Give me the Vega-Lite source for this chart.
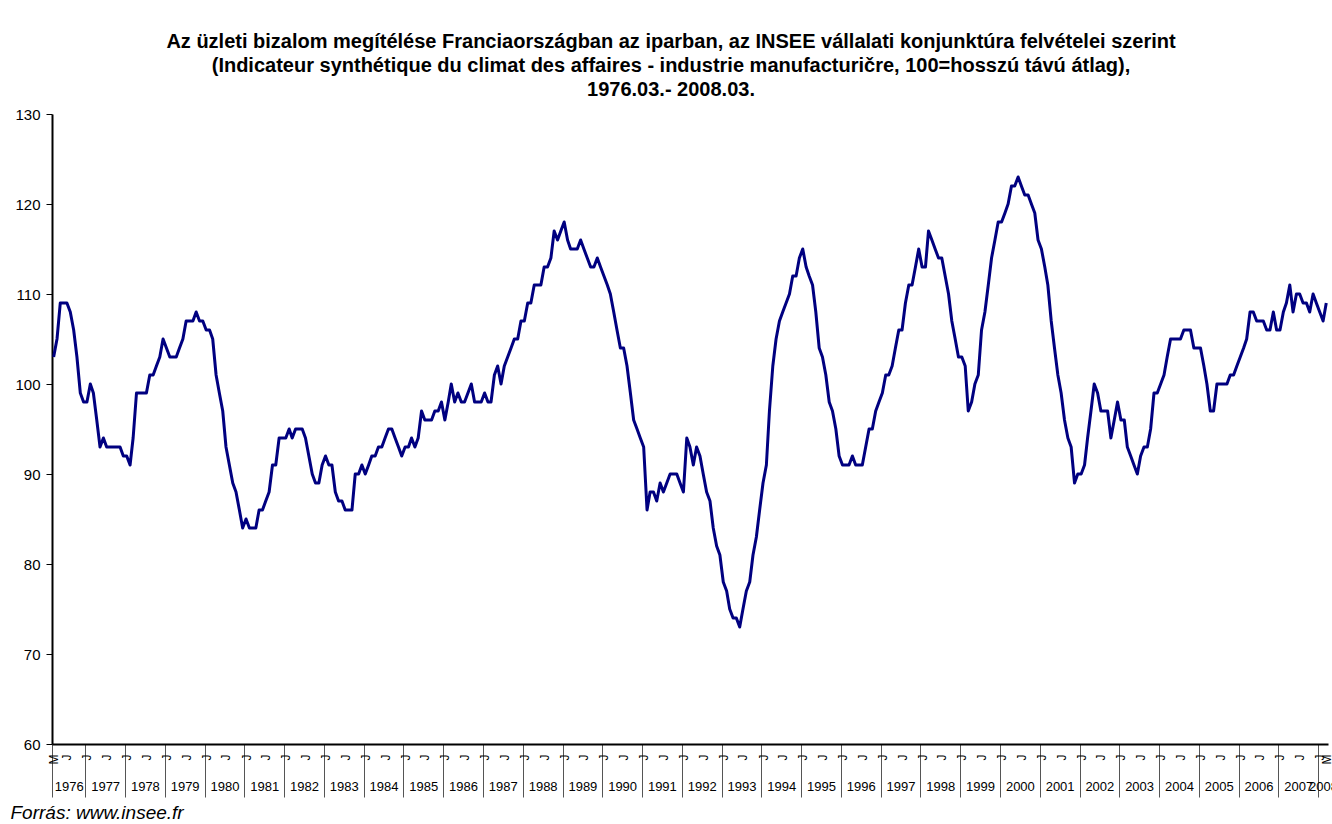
{
  "$schema": "https://vega.github.io/schema/vega-lite/v6.json",
  "width": 1276,
  "height": 630,
  "autosize": "none",
  "padding": {"left": 52, "top": 114, "right": 4, "bottom": 80},
  "background": "white",
  "config": {"font": "Liberation Sans", "view": {"stroke": null}},
  "title": {
    "text": [
      "Az üzleti bizalom megítélése Franciaországban az iparban, az INSEE vállalati konjunktúra felvételei szerint",
      "(Indicateur synthétique du climat des affaires - industrie manufacturičre, 100=hosszú távú átlag),",
      "1976.03.- 2008.03."
    ],
    "font": "Liberation Sans",
    "fontSize": 20,
    "fontWeight": "bold",
    "lineHeight": 24,
    "color": "black",
    "anchor": "middle",
    "frame": "group",
    "dx": -19,
    "offset": 7
  },
  "datasets": {
    "idx": [
      {"d":"1976-03-16","v":103},{"d":"1976-04-16","v":105},{"d":"1976-05-16","v":109},{"d":"1976-06-16","v":109},{"d":"1976-07-16","v":109},{"d":"1976-08-16","v":108},{"d":"1976-09-16","v":106},{"d":"1976-10-16","v":103},{"d":"1976-11-16","v":99},{"d":"1976-12-16","v":98},
      {"d":"1977-01-16","v":98},{"d":"1977-02-16","v":100},{"d":"1977-03-16","v":99},{"d":"1977-04-16","v":96},{"d":"1977-05-16","v":93},{"d":"1977-06-16","v":94},{"d":"1977-07-16","v":93},{"d":"1977-08-16","v":93},{"d":"1977-09-16","v":93},{"d":"1977-10-16","v":93},{"d":"1977-11-16","v":93},{"d":"1977-12-16","v":92},
      {"d":"1978-01-16","v":92},{"d":"1978-02-16","v":91},{"d":"1978-03-16","v":94},{"d":"1978-04-16","v":99},{"d":"1978-05-16","v":99},{"d":"1978-06-16","v":99},{"d":"1978-07-16","v":99},{"d":"1978-08-16","v":101},{"d":"1978-09-16","v":101},{"d":"1978-10-16","v":102},{"d":"1978-11-16","v":103},{"d":"1978-12-16","v":105},
      {"d":"1979-01-16","v":104},{"d":"1979-02-16","v":103},{"d":"1979-03-16","v":103},{"d":"1979-04-16","v":103},{"d":"1979-05-16","v":104},{"d":"1979-06-16","v":105},{"d":"1979-07-16","v":107},{"d":"1979-08-16","v":107},{"d":"1979-09-16","v":107},{"d":"1979-10-16","v":108},{"d":"1979-11-16","v":107},{"d":"1979-12-16","v":107},
      {"d":"1980-01-16","v":106},{"d":"1980-02-16","v":106},{"d":"1980-03-16","v":105},{"d":"1980-04-16","v":101},{"d":"1980-05-16","v":99},{"d":"1980-06-16","v":97},{"d":"1980-07-16","v":93},{"d":"1980-08-16","v":91},{"d":"1980-09-16","v":89},{"d":"1980-10-16","v":88},{"d":"1980-11-16","v":86},{"d":"1980-12-16","v":84},
      {"d":"1981-01-16","v":85},{"d":"1981-02-16","v":84},{"d":"1981-03-16","v":84},{"d":"1981-04-16","v":84},{"d":"1981-05-16","v":86},{"d":"1981-06-16","v":86},{"d":"1981-07-16","v":87},{"d":"1981-08-16","v":88},{"d":"1981-09-16","v":91},{"d":"1981-10-16","v":91},{"d":"1981-11-16","v":94},{"d":"1981-12-16","v":94},
      {"d":"1982-01-16","v":94},{"d":"1982-02-16","v":95},{"d":"1982-03-16","v":94},{"d":"1982-04-16","v":95},{"d":"1982-05-16","v":95},{"d":"1982-06-16","v":95},{"d":"1982-07-16","v":94},{"d":"1982-08-16","v":92},{"d":"1982-09-16","v":90},{"d":"1982-10-16","v":89},{"d":"1982-11-16","v":89},{"d":"1982-12-16","v":91},
      {"d":"1983-01-16","v":92},{"d":"1983-02-16","v":91},{"d":"1983-03-16","v":91},{"d":"1983-04-16","v":88},{"d":"1983-05-16","v":87},{"d":"1983-06-16","v":87},{"d":"1983-07-16","v":86},{"d":"1983-08-16","v":86},{"d":"1983-09-16","v":86},{"d":"1983-10-16","v":90},{"d":"1983-11-16","v":90},{"d":"1983-12-16","v":91},
      {"d":"1984-01-16","v":90},{"d":"1984-02-16","v":91},{"d":"1984-03-16","v":92},{"d":"1984-04-16","v":92},{"d":"1984-05-16","v":93},{"d":"1984-06-16","v":93},{"d":"1984-07-16","v":94},{"d":"1984-08-16","v":95},{"d":"1984-09-16","v":95},{"d":"1984-10-16","v":94},{"d":"1984-11-16","v":93},{"d":"1984-12-16","v":92},
      {"d":"1985-01-16","v":93},{"d":"1985-02-16","v":93},{"d":"1985-03-16","v":94},{"d":"1985-04-16","v":93},{"d":"1985-05-16","v":94},{"d":"1985-06-16","v":97},{"d":"1985-07-16","v":96},{"d":"1985-08-16","v":96},{"d":"1985-09-16","v":96},{"d":"1985-10-16","v":97},{"d":"1985-11-16","v":97},{"d":"1985-12-16","v":98},
      {"d":"1986-01-16","v":96},{"d":"1986-02-16","v":98},{"d":"1986-03-16","v":100},{"d":"1986-04-16","v":98},{"d":"1986-05-16","v":99},{"d":"1986-06-16","v":98},{"d":"1986-07-16","v":98},{"d":"1986-08-16","v":99},{"d":"1986-09-16","v":100},{"d":"1986-10-16","v":98},{"d":"1986-11-16","v":98},{"d":"1986-12-16","v":98},
      {"d":"1987-01-16","v":99},{"d":"1987-02-16","v":98},{"d":"1987-03-16","v":98},{"d":"1987-04-16","v":101},{"d":"1987-05-16","v":102},{"d":"1987-06-16","v":100},{"d":"1987-07-16","v":102},{"d":"1987-08-16","v":103},{"d":"1987-09-16","v":104},{"d":"1987-10-16","v":105},{"d":"1987-11-16","v":105},{"d":"1987-12-16","v":107},
      {"d":"1988-01-16","v":107},{"d":"1988-02-16","v":109},{"d":"1988-03-16","v":109},{"d":"1988-04-16","v":111},{"d":"1988-05-16","v":111},{"d":"1988-06-16","v":111},{"d":"1988-07-16","v":113},{"d":"1988-08-16","v":113},{"d":"1988-09-16","v":114},{"d":"1988-10-16","v":117},{"d":"1988-11-16","v":116},{"d":"1988-12-16","v":117},
      {"d":"1989-01-16","v":118},{"d":"1989-02-16","v":116},{"d":"1989-03-16","v":115},{"d":"1989-04-16","v":115},{"d":"1989-05-16","v":115},{"d":"1989-06-16","v":116},{"d":"1989-07-16","v":115},{"d":"1989-08-16","v":114},{"d":"1989-09-16","v":113},{"d":"1989-10-16","v":113},{"d":"1989-11-16","v":114},{"d":"1989-12-16","v":113},
      {"d":"1990-01-16","v":112},{"d":"1990-02-16","v":111},{"d":"1990-03-16","v":110},{"d":"1990-04-16","v":108},{"d":"1990-05-16","v":106},{"d":"1990-06-16","v":104},{"d":"1990-07-16","v":104},{"d":"1990-08-16","v":102},{"d":"1990-09-16","v":99},{"d":"1990-10-16","v":96},{"d":"1990-11-16","v":95},{"d":"1990-12-16","v":94},
      {"d":"1991-01-16","v":93},{"d":"1991-02-16","v":86},{"d":"1991-03-16","v":88},{"d":"1991-04-16","v":88},{"d":"1991-05-16","v":87},{"d":"1991-06-16","v":89},{"d":"1991-07-16","v":88},{"d":"1991-08-16","v":89},{"d":"1991-09-16","v":90},{"d":"1991-10-16","v":90},{"d":"1991-11-16","v":90},{"d":"1991-12-16","v":89},
      {"d":"1992-01-16","v":88},{"d":"1992-02-16","v":94},{"d":"1992-03-16","v":93},{"d":"1992-04-16","v":91},{"d":"1992-05-16","v":93},{"d":"1992-06-16","v":92},{"d":"1992-07-16","v":90},{"d":"1992-08-16","v":88},{"d":"1992-09-16","v":87},{"d":"1992-10-16","v":84},{"d":"1992-11-16","v":82},{"d":"1992-12-16","v":81},
      {"d":"1993-01-16","v":78},{"d":"1993-02-16","v":77},{"d":"1993-03-16","v":75},{"d":"1993-04-16","v":74},{"d":"1993-05-16","v":74},{"d":"1993-06-16","v":73},{"d":"1993-07-16","v":75},{"d":"1993-08-16","v":77},{"d":"1993-09-16","v":78},{"d":"1993-10-16","v":81},{"d":"1993-11-16","v":83},{"d":"1993-12-16","v":86},
      {"d":"1994-01-16","v":89},{"d":"1994-02-16","v":91},{"d":"1994-03-16","v":97},{"d":"1994-04-16","v":102},{"d":"1994-05-16","v":105},{"d":"1994-06-16","v":107},{"d":"1994-07-16","v":108},{"d":"1994-08-16","v":109},{"d":"1994-09-16","v":110},{"d":"1994-10-16","v":112},{"d":"1994-11-16","v":112},{"d":"1994-12-16","v":114},
      {"d":"1995-01-16","v":115},{"d":"1995-02-16","v":113},{"d":"1995-03-16","v":112},{"d":"1995-04-16","v":111},{"d":"1995-05-16","v":108},{"d":"1995-06-16","v":104},{"d":"1995-07-16","v":103},{"d":"1995-08-16","v":101},{"d":"1995-09-16","v":98},{"d":"1995-10-16","v":97},{"d":"1995-11-16","v":95},{"d":"1995-12-16","v":92},
      {"d":"1996-01-16","v":91},{"d":"1996-02-16","v":91},{"d":"1996-03-16","v":91},{"d":"1996-04-16","v":92},{"d":"1996-05-16","v":91},{"d":"1996-06-16","v":91},{"d":"1996-07-16","v":91},{"d":"1996-08-16","v":93},{"d":"1996-09-16","v":95},{"d":"1996-10-16","v":95},{"d":"1996-11-16","v":97},{"d":"1996-12-16","v":98},
      {"d":"1997-01-16","v":99},{"d":"1997-02-16","v":101},{"d":"1997-03-16","v":101},{"d":"1997-04-16","v":102},{"d":"1997-05-16","v":104},{"d":"1997-06-16","v":106},{"d":"1997-07-16","v":106},{"d":"1997-08-16","v":109},{"d":"1997-09-16","v":111},{"d":"1997-10-16","v":111},{"d":"1997-11-16","v":113},{"d":"1997-12-16","v":115},
      {"d":"1998-01-16","v":113},{"d":"1998-02-16","v":113},{"d":"1998-03-16","v":117},{"d":"1998-04-16","v":116},{"d":"1998-05-16","v":115},{"d":"1998-06-16","v":114},{"d":"1998-07-16","v":114},{"d":"1998-08-16","v":112},{"d":"1998-09-16","v":110},{"d":"1998-10-16","v":107},{"d":"1998-11-16","v":105},{"d":"1998-12-16","v":103},
      {"d":"1999-01-16","v":103},{"d":"1999-02-16","v":102},{"d":"1999-03-16","v":97},{"d":"1999-04-16","v":98},{"d":"1999-05-16","v":100},{"d":"1999-06-16","v":101},{"d":"1999-07-16","v":106},{"d":"1999-08-16","v":108},{"d":"1999-09-16","v":111},{"d":"1999-10-16","v":114},{"d":"1999-11-16","v":116},{"d":"1999-12-16","v":118},
      {"d":"2000-01-16","v":118},{"d":"2000-02-16","v":119},{"d":"2000-03-16","v":120},{"d":"2000-04-16","v":122},{"d":"2000-05-16","v":122},{"d":"2000-06-16","v":123},{"d":"2000-07-16","v":122},{"d":"2000-08-16","v":121},{"d":"2000-09-16","v":121},{"d":"2000-10-16","v":120},{"d":"2000-11-16","v":119},{"d":"2000-12-16","v":116},
      {"d":"2001-01-16","v":115},{"d":"2001-02-16","v":113},{"d":"2001-03-16","v":111},{"d":"2001-04-16","v":107},{"d":"2001-05-16","v":104},{"d":"2001-06-16","v":101},{"d":"2001-07-16","v":99},{"d":"2001-08-16","v":96},{"d":"2001-09-16","v":94},{"d":"2001-10-16","v":93},{"d":"2001-11-16","v":89},{"d":"2001-12-16","v":90},
      {"d":"2002-01-16","v":90},{"d":"2002-02-16","v":91},{"d":"2002-03-16","v":94},{"d":"2002-04-16","v":97},{"d":"2002-05-16","v":100},{"d":"2002-06-16","v":99},{"d":"2002-07-16","v":97},{"d":"2002-08-16","v":97},{"d":"2002-09-16","v":97},{"d":"2002-10-16","v":94},{"d":"2002-11-16","v":96},{"d":"2002-12-16","v":98},
      {"d":"2003-01-16","v":96},{"d":"2003-02-16","v":96},{"d":"2003-03-16","v":93},{"d":"2003-04-16","v":92},{"d":"2003-05-16","v":91},{"d":"2003-06-16","v":90},{"d":"2003-07-16","v":92},{"d":"2003-08-16","v":93},{"d":"2003-09-16","v":93},{"d":"2003-10-16","v":95},{"d":"2003-11-16","v":99},{"d":"2003-12-16","v":99},
      {"d":"2004-01-16","v":100},{"d":"2004-02-16","v":101},{"d":"2004-03-16","v":103},{"d":"2004-04-16","v":105},{"d":"2004-05-16","v":105},{"d":"2004-06-16","v":105},{"d":"2004-07-16","v":105},{"d":"2004-08-16","v":106},{"d":"2004-09-16","v":106},{"d":"2004-10-16","v":106},{"d":"2004-11-16","v":104},{"d":"2004-12-16","v":104},
      {"d":"2005-01-16","v":104},{"d":"2005-02-16","v":102},{"d":"2005-03-16","v":100},{"d":"2005-04-16","v":97},{"d":"2005-05-16","v":97},{"d":"2005-06-16","v":100},{"d":"2005-07-16","v":100},{"d":"2005-08-16","v":100},{"d":"2005-09-16","v":100},{"d":"2005-10-16","v":101},{"d":"2005-11-16","v":101},{"d":"2005-12-16","v":102},
      {"d":"2006-01-16","v":103},{"d":"2006-02-16","v":104},{"d":"2006-03-16","v":105},{"d":"2006-04-16","v":108},{"d":"2006-05-16","v":108},{"d":"2006-06-16","v":107},{"d":"2006-07-16","v":107},{"d":"2006-08-16","v":107},{"d":"2006-09-16","v":106},{"d":"2006-10-16","v":106},{"d":"2006-11-16","v":108},{"d":"2006-12-16","v":106},
      {"d":"2007-01-16","v":106},{"d":"2007-02-16","v":108},{"d":"2007-03-16","v":109},{"d":"2007-04-16","v":111},{"d":"2007-05-16","v":108},{"d":"2007-06-16","v":110},{"d":"2007-07-16","v":110},{"d":"2007-08-16","v":109},{"d":"2007-09-16","v":109},{"d":"2007-10-16","v":108},{"d":"2007-11-16","v":110},{"d":"2007-12-16","v":109},
      {"d":"2008-01-16","v":108},{"d":"2008-02-16","v":107},{"d":"2008-03-16","v":109}
    ]
  },
  "data": {"name": "idx"},
  "layer": [
    {
      "mark": {"type": "line", "color": "#000080", "strokeWidth": 3, "strokeJoin": "round"},
      "encoding": {
        "x": {
          "field": "d", "type": "temporal",
          "scale": {"type": "utc", "domain": [{"year":1976,"month":3,"date":1,"utc":true},{"year":2008,"month":4,"date":1,"utc":true}]},
          "axis": {
            "orient": "bottom", "title": null, "labels": false, "grid": false,
            "domain": true, "domainColor": "black", "domainWidth": 2,
            "ticks": true, "tickSize": 53, "tickColor": "#555555", "tickWidth": 1,
            "values": [
              {"year":1976,"month":3,"date":1,"utc":true},
              {"year":1977,"month":1,"date":1,"utc":true},{"year":1978,"month":1,"date":1,"utc":true},{"year":1979,"month":1,"date":1,"utc":true},{"year":1980,"month":1,"date":1,"utc":true},
              {"year":1981,"month":1,"date":1,"utc":true},{"year":1982,"month":1,"date":1,"utc":true},{"year":1983,"month":1,"date":1,"utc":true},{"year":1984,"month":1,"date":1,"utc":true},
              {"year":1985,"month":1,"date":1,"utc":true},{"year":1986,"month":1,"date":1,"utc":true},{"year":1987,"month":1,"date":1,"utc":true},{"year":1988,"month":1,"date":1,"utc":true},
              {"year":1989,"month":1,"date":1,"utc":true},{"year":1990,"month":1,"date":1,"utc":true},{"year":1991,"month":1,"date":1,"utc":true},{"year":1992,"month":1,"date":1,"utc":true},
              {"year":1993,"month":1,"date":1,"utc":true},{"year":1994,"month":1,"date":1,"utc":true},{"year":1995,"month":1,"date":1,"utc":true},{"year":1996,"month":1,"date":1,"utc":true},
              {"year":1997,"month":1,"date":1,"utc":true},{"year":1998,"month":1,"date":1,"utc":true},{"year":1999,"month":1,"date":1,"utc":true},{"year":2000,"month":1,"date":1,"utc":true},
              {"year":2001,"month":1,"date":1,"utc":true},{"year":2002,"month":1,"date":1,"utc":true},{"year":2003,"month":1,"date":1,"utc":true},{"year":2004,"month":1,"date":1,"utc":true},
              {"year":2005,"month":1,"date":1,"utc":true},{"year":2006,"month":1,"date":1,"utc":true},{"year":2007,"month":1,"date":1,"utc":true},{"year":2008,"month":1,"date":1,"utc":true}
            ]
          }
        },
        "y": {
          "field": "v", "type": "quantitative",
          "scale": {"domain": [60, 130], "nice": false, "zero": false},
          "axis": {"title": null, "grid": false, "values": [60,70,80,90,100,110,120,130], "domainColor": "black", "domainWidth": 2, "tickColor": "black", "tickSize": 6, "labelFontSize": 15, "labelColor": "black", "labelPadding": 6}
        }
      }
    },
    {
      "mark": {"type": "line", "strokeOpacity": 0},
      "encoding": {
        "x": {
          "field": "d", "type": "temporal",
          "scale": {"type": "utc", "domain": [{"year":1976,"month":3,"date":1,"utc":true},{"year":2008,"month":4,"date":1,"utc":true}]},
          "axis": {
            "orient": "bottom", "title": null, "grid": false, "domain": false, "ticks": false, "tickSize": 0,
            "labelAngle": 270, "labelFontSize": 12, "labelColor": "black", "labelPadding": 10,
            "labelOverlap": false, "labelBound": false, "labelFlush": false,
            "labelExpr": "utcmonth(datum.value) == 2 ? 'M' : 'J'",
            "values": [
              {"year":1976,"month":3,"date":16,"utc":true},{"year":1976,"month":7,"date":16,"utc":true},
              {"year":1977,"month":1,"date":16,"utc":true},{"year":1977,"month":7,"date":16,"utc":true},
              {"year":1978,"month":1,"date":16,"utc":true},{"year":1978,"month":7,"date":16,"utc":true},
              {"year":1979,"month":1,"date":16,"utc":true},{"year":1979,"month":7,"date":16,"utc":true},
              {"year":1980,"month":1,"date":16,"utc":true},{"year":1980,"month":7,"date":16,"utc":true},
              {"year":1981,"month":1,"date":16,"utc":true},{"year":1981,"month":7,"date":16,"utc":true},
              {"year":1982,"month":1,"date":16,"utc":true},{"year":1982,"month":7,"date":16,"utc":true},
              {"year":1983,"month":1,"date":16,"utc":true},{"year":1983,"month":7,"date":16,"utc":true},
              {"year":1984,"month":1,"date":16,"utc":true},{"year":1984,"month":7,"date":16,"utc":true},
              {"year":1985,"month":1,"date":16,"utc":true},{"year":1985,"month":7,"date":16,"utc":true},
              {"year":1986,"month":1,"date":16,"utc":true},{"year":1986,"month":7,"date":16,"utc":true},
              {"year":1987,"month":1,"date":16,"utc":true},{"year":1987,"month":7,"date":16,"utc":true},
              {"year":1988,"month":1,"date":16,"utc":true},{"year":1988,"month":7,"date":16,"utc":true},
              {"year":1989,"month":1,"date":16,"utc":true},{"year":1989,"month":7,"date":16,"utc":true},
              {"year":1990,"month":1,"date":16,"utc":true},{"year":1990,"month":7,"date":16,"utc":true},
              {"year":1991,"month":1,"date":16,"utc":true},{"year":1991,"month":7,"date":16,"utc":true},
              {"year":1992,"month":1,"date":16,"utc":true},{"year":1992,"month":7,"date":16,"utc":true},
              {"year":1993,"month":1,"date":16,"utc":true},{"year":1993,"month":7,"date":16,"utc":true},
              {"year":1994,"month":1,"date":16,"utc":true},{"year":1994,"month":7,"date":16,"utc":true},
              {"year":1995,"month":1,"date":16,"utc":true},{"year":1995,"month":7,"date":16,"utc":true},
              {"year":1996,"month":1,"date":16,"utc":true},{"year":1996,"month":7,"date":16,"utc":true},
              {"year":1997,"month":1,"date":16,"utc":true},{"year":1997,"month":7,"date":16,"utc":true},
              {"year":1998,"month":1,"date":16,"utc":true},{"year":1998,"month":7,"date":16,"utc":true},
              {"year":1999,"month":1,"date":16,"utc":true},{"year":1999,"month":7,"date":16,"utc":true},
              {"year":2000,"month":1,"date":16,"utc":true},{"year":2000,"month":7,"date":16,"utc":true},
              {"year":2001,"month":1,"date":16,"utc":true},{"year":2001,"month":7,"date":16,"utc":true},
              {"year":2002,"month":1,"date":16,"utc":true},{"year":2002,"month":7,"date":16,"utc":true},
              {"year":2003,"month":1,"date":16,"utc":true},{"year":2003,"month":7,"date":16,"utc":true},
              {"year":2004,"month":1,"date":16,"utc":true},{"year":2004,"month":7,"date":16,"utc":true},
              {"year":2005,"month":1,"date":16,"utc":true},{"year":2005,"month":7,"date":16,"utc":true},
              {"year":2006,"month":1,"date":16,"utc":true},{"year":2006,"month":7,"date":16,"utc":true},
              {"year":2007,"month":1,"date":16,"utc":true},{"year":2007,"month":7,"date":16,"utc":true},
              {"year":2008,"month":1,"date":16,"utc":true},{"year":2008,"month":3,"date":16,"utc":true}
            ]
          }
        },
        "y": {
          "field": "v", "type": "quantitative",
          "scale": {"domain": [60, 130], "nice": false, "zero": false},
          "axis": {"title": null, "grid": false, "values": [60,70,80,90,100,110,120,130], "domainColor": "black", "domainWidth": 2, "tickColor": "black", "tickSize": 6, "labelFontSize": 15, "labelColor": "black", "labelPadding": 6}
        }
      }
    },
    {
      "mark": {"type": "line", "strokeOpacity": 0},
      "encoding": {
        "x": {
          "field": "d", "type": "temporal",
          "scale": {"type": "utc", "domain": [{"year":1976,"month":3,"date":1,"utc":true},{"year":2008,"month":4,"date":1,"utc":true}]},
          "axis": {
            "orient": "bottom", "grid": false, "domain": false, "ticks": false, "tickSize": 0,
            "labelAngle": 0, "labelFontSize": 13, "labelColor": "black", "labelPadding": 36,
            "labelOverlap": false, "labelBound": false, "labelFlush": false,
            "labelExpr": "utcFormat(datum.value, '%Y')",
            "title": "Forrás: www.insee.fr",
            "titleFontStyle": "italic", "titleFontWeight": "normal", "titleFontSize": 19, "titleColor": "black",
            "titleAlign": "left", "titleBaseline": "alphabetic", "titleAnchor": "start", "titleX": -42, "titleY": 74,
            "values": [
              {"year":1976,"month":8,"date":1,"utc":true},
              {"year":1977,"month":7,"date":2,"utc":true},{"year":1978,"month":7,"date":2,"utc":true},{"year":1979,"month":7,"date":2,"utc":true},{"year":1980,"month":7,"date":2,"utc":true},
              {"year":1981,"month":7,"date":2,"utc":true},{"year":1982,"month":7,"date":2,"utc":true},{"year":1983,"month":7,"date":2,"utc":true},{"year":1984,"month":7,"date":2,"utc":true},
              {"year":1985,"month":7,"date":2,"utc":true},{"year":1986,"month":7,"date":2,"utc":true},{"year":1987,"month":7,"date":2,"utc":true},{"year":1988,"month":7,"date":2,"utc":true},
              {"year":1989,"month":7,"date":2,"utc":true},{"year":1990,"month":7,"date":2,"utc":true},{"year":1991,"month":7,"date":2,"utc":true},{"year":1992,"month":7,"date":2,"utc":true},
              {"year":1993,"month":7,"date":2,"utc":true},{"year":1994,"month":7,"date":2,"utc":true},{"year":1995,"month":7,"date":2,"utc":true},{"year":1996,"month":7,"date":2,"utc":true},
              {"year":1997,"month":7,"date":2,"utc":true},{"year":1998,"month":7,"date":2,"utc":true},{"year":1999,"month":7,"date":2,"utc":true},{"year":2000,"month":7,"date":2,"utc":true},
              {"year":2001,"month":7,"date":2,"utc":true},{"year":2002,"month":7,"date":2,"utc":true},{"year":2003,"month":7,"date":2,"utc":true},{"year":2004,"month":7,"date":2,"utc":true},
              {"year":2005,"month":7,"date":2,"utc":true},{"year":2006,"month":7,"date":2,"utc":true},{"year":2007,"month":7,"date":2,"utc":true},{"year":2008,"month":2,"date":15,"utc":true}
            ]
          }
        },
        "y": {
          "field": "v", "type": "quantitative",
          "scale": {"domain": [60, 130], "nice": false, "zero": false},
          "axis": {"title": null, "grid": false, "values": [60,70,80,90,100,110,120,130], "domainColor": "black", "domainWidth": 2, "tickColor": "black", "tickSize": 6, "labelFontSize": 15, "labelColor": "black", "labelPadding": 6}
        }
      }
    }
  ],
  "resolve": {"scale": {"x": "independent"}, "axis": {"x": "independent"}}
}
